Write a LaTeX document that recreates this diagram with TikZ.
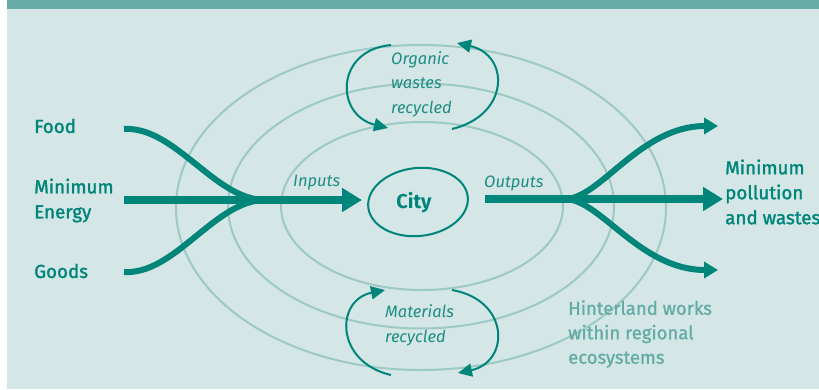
\documentclass[tikz,border=0pt]{standalone}
\usepackage{fontspec}
\setmainfont{Fira Sans}
\newfontfamily\medfont[FakeBold=1.6]{Fira Sans}
\newfontfamily\semifont[FakeBold=1.0]{Fira Sans}
\usetikzlibrary{arrows.meta}
\definecolor{tdark}{HTML}{00857A}
\definecolor{tband}{HTML}{67ABA6}
\definecolor{tbg}{HTML}{D4E6E5}
\definecolor{tring}{HTML}{9DC9C5}
\definecolor{thint}{HTML}{62ACA4}
\definecolor{tital}{HTML}{1E8D83}
\tikzset{
  ring/.style={draw=tring, line width=2pt},
  flowthick/.style={draw=tdark, line width=8pt},
  flowthin/.style={draw=tdark, line width=6pt},
  bigtip/.style={-{Triangle[length=20pt,width=23pt]}},
  smalltip/.style={-{Triangle[length=14pt,width=16pt]}},
  loop/.style={draw=tdark, line width=2pt, -{Triangle[length=14pt,width=13pt]}},
  lbl/.style={text=tdark, font=\medfont\fontsize{18.8}{25}\selectfont, align=left, inner sep=0pt, anchor=west},
  ital/.style={text=tital, font=\fontsize{16.5}{24.5}\selectfont\itshape, align=left, inner sep=0pt, anchor=west},
  hint/.style={text=thint, font=\semifont\fontsize{18.5}{24.5}\selectfont, align=left, inner sep=0pt, anchor=west},
}
\begin{document}
\begin{tikzpicture}[x=1pt,y=-1pt]
\useasboundingbox (0,0) rectangle (819,389);
\fill[tbg] (7,0) rectangle (819,389);
\fill[tband] (7,0) rectangle (819,9);
% rings
\draw[ring] (421,207.5) ellipse [x radius=245, y radius=162.5];
\draw[ring] (421,206) ellipse [x radius=193, y radius=122.5];
\draw[ring] (422,206) ellipse [x radius=141, y radius=84];
% city
\node[text=tdark, font=\fontsize{20}{22}\selectfont\bfseries, inner sep=0pt] (city) at (414,203) {City};
\draw[draw=tdark, line width=2pt, rotate around={6:(418,202)}] (418,202) ellipse [x radius=50, y radius=34];
% coordinates
\coordinate (foodA) at (124,129);
\coordinate (energyA) at (124,200);
\coordinate (goodsA) at (124,272);
\coordinate (inmerge) at (265,200);
\coordinate (intip) at (362,200);
\coordinate (outA) at (485,199);
\coordinate (outmerge) at (565,199);
\coordinate (outtip) at (723,199);
\coordinate (upbend) at (705,126);
\coordinate (uptip) at (718,126);
\coordinate (lowbend) at (705,270);
\coordinate (lowtip) at (718,270);
% inputs
\draw[flowthin] (foodA) .. controls (175,126) and (215,200) .. (inmerge);
\draw[flowthin] (goodsA) .. controls (175,275) and (215,200) .. (inmerge);
\draw[flowthick, bigtip] (energyA) -- (intip);
% outputs
\draw[flowthin, smalltip] (outmerge) .. controls (600,199) and (640,126) .. (upbend) -- (uptip);
\draw[flowthin, smalltip] (outmerge) .. controls (600,199) and (640,270) .. (lowbend) -- (lowtip);
\draw[flowthick, bigtip] (outA) -- (outtip);
% recycling loops
\coordinate (o1s) at (391,45);  \coordinate (o1e) at (388,128);
\coordinate (o2s) at (452,129); \coordinate (o2e) at (457,43);
\coordinate (m1s) at (391,375); \coordinate (m1e) at (385,290);
\coordinate (m2s) at (452,290); \coordinate (m2e) at (458,373);
\draw[loop] (o1s) .. controls (335,50) and (335,115) .. (o1e);
\draw[loop] (o2s) .. controls (510,115) and (510,55) .. (o2e);
\draw[loop] (m1s) .. controls (335,362) and (335,300) .. (m1e);
\draw[loop] (m2s) .. controls (510,300) and (510,362) .. (m2e);
% labels
\node[lbl] (food) at (34,126) {Food};
\node[lbl] (energy) at (34,200.5) {Minimum\\Energy};
\node[lbl] (goods) at (34,271) {Goods};
\node[lbl] (pollution) at (725,192) {Minimum\\pollution\\and wastes};
\node[ital] (inputs) at (293,183) {Inputs};
\node[ital] (outputs) at (484,183) {Outputs};
\node[ital] (organic) at (391,84) {Organic\\wastes\\recycled};
\node[ital] (materials) at (385,325.5) {Materials\\recycled};
\node[hint] (hinter) at (568,334) {Hinterland works\\within regional\\ecosystems};
\end{tikzpicture}
\end{document}
